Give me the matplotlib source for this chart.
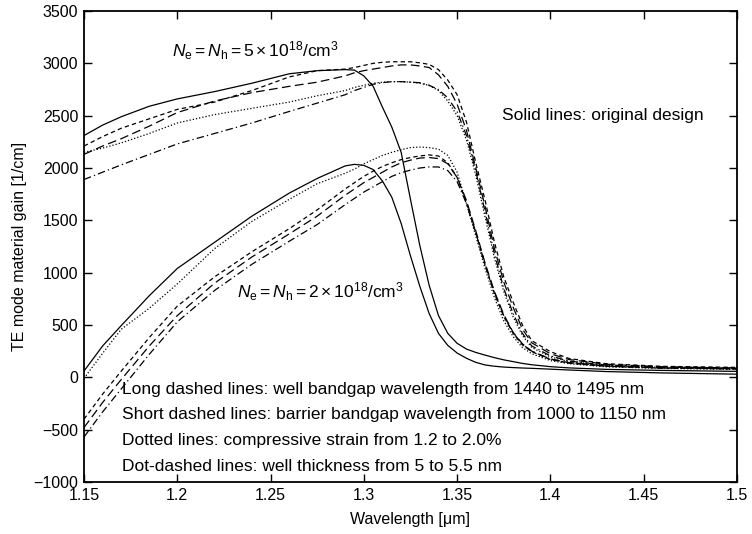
import matplotlib
matplotlib.use("Agg")
import matplotlib.pyplot as plt

plt.rcParams['font.family'] = ['Liberation Sans', 'DejaVu Sans']
plt.rcParams['mathtext.fontset'] = 'custom'
plt.rcParams['mathtext.rm'] = 'Liberation Sans'
plt.rcParams['mathtext.it'] = 'Liberation Sans:italic'

# wavelength grid (um) shared by all curves
wl = [1.15, 1.16, 1.17, 1.185, 1.20, 1.22, 1.24, 1.26, 1.275, 1.29, 1.295,
      1.30, 1.305, 1.31, 1.315, 1.32, 1.325, 1.33, 1.335, 1.34, 1.345, 1.35,
      1.355, 1.36, 1.365, 1.37, 1.375, 1.38, 1.385, 1.39, 1.40, 1.41, 1.43,
      1.46, 1.50]

# Ne = Nh = 5e18 /cm3
hi_solid = [2310, 2410, 2490, 2590, 2660, 2730, 2810, 2900, 2930, 2940, 2935,
            2880, 2780, 2580, 2390, 2150, 1700, 1260, 880, 590, 420, 325,
            270, 238, 212, 188, 167, 150, 133, 120, 102, 90, 76, 66, 57]
hi_long = [2130, 2210, 2280, 2400, 2530, 2640, 2720, 2780, 2820, 2880, 2910,
           2930, 2945, 2960, 2975, 2985, 2985, 2975, 2960, 2890, 2780, 2610,
           2360, 2000, 1630, 1230, 910, 670, 460, 330, 225, 170, 125, 100, 90]
hi_short = [2210, 2300, 2380, 2470, 2560, 2630, 2740, 2870, 2930, 2945, 2960,
            2980, 3000, 3010, 3015, 3015, 3015, 3005, 2990, 2940, 2840, 2700,
            2440, 2050, 1690, 1290, 960, 720, 500, 350, 245, 180, 130, 105, 95]
hi_dot = [2150, 2190, 2240, 2330, 2430, 2510, 2570, 2630, 2690, 2740, 2770,
          2790, 2810, 2820, 2825, 2825, 2820, 2810, 2790, 2740, 2640, 2500,
          2270, 1930, 1530, 1140, 820, 580, 400, 285, 195, 150, 115, 95, 85]
hi_dashdot = [1890, 1960, 2030, 2130, 2230, 2330, 2430, 2540, 2620, 2700, 2740,
              2770, 2800, 2815, 2825, 2825, 2820, 2815, 2790, 2750, 2670, 2540,
              2310, 1970, 1580, 1180, 850, 610, 420, 300, 205, 155, 118, 98, 88]

# Ne = Nh = 2e18 /cm3
lo_solid = [60, 300, 495, 780, 1040, 1290, 1540, 1760, 1900, 2020, 2035,
            2025, 1985, 1875, 1720, 1470, 1160, 870, 610, 420, 305, 232,
            182, 143, 118, 106, 98, 93, 89, 86, 78, 70, 55, 42, 30]
lo_long = [-480, -240, -20, 300, 590, 900, 1150, 1370, 1540, 1740, 1800,
           1860, 1910, 1960, 2010, 2050, 2075, 2095, 2100, 2090, 2040, 1910,
           1690, 1400, 1090, 820, 600, 430, 320, 250, 175, 140, 108, 90, 82]
lo_short = [-400, -160, 60, 380, 680, 960, 1200, 1420, 1600, 1800, 1860,
            1920, 1970, 2015, 2050, 2080, 2100, 2115, 2125, 2115, 2050, 1910,
            1670, 1380, 1070, 800, 580, 420, 310, 245, 170, 135, 105, 88, 80]
lo_dot = [-10, 230, 460, 660, 892, 1230, 1490, 1700, 1850, 1950, 1990,
          2040, 2080, 2120, 2150, 2175, 2195, 2200, 2195, 2180, 2120, 1960,
          1660, 1350, 1040, 760, 540, 390, 285, 225, 160, 130, 100, 85, 75]
lo_dashdot = [-570, -330, -110, 220, 530, 830, 1080, 1300, 1460, 1650, 1710,
              1770, 1820, 1870, 1920, 1955, 1980, 2000, 2010, 2010, 1975, 1870,
              1660, 1380, 1080, 810, 590, 425, 315, 248, 175, 140, 108, 90, 82]

notes = ["Long dashed lines: well bandgap wavelength from 1440 to 1495 nm",
         "Short dashed lines: barrier bandgap wavelength from 1000 to 1150 nm",
         "Dotted lines: compressive strain from 1.2 to 2.0%",
         "Dot-dashed lines: well thickness from 5 to 5.5 nm"]
note_y = [-163, -402, -642, -891]

fig = plt.figure(figsize=(7.52, 5.34), dpi=100)
ax = fig.add_axes([0.1117, 0.0974, 0.8683, 0.882])

styles = {
    'solid': '-',
    'long': (0, (7, 3.5)),
    'short': (0, (3.5, 2.5)),
    'dot': (0, (1, 1.6)),
    'dashdot': (0, (6, 2.5, 1, 2.5)),
}
lw = 0.9
for kind, hi, lo in [('solid', hi_solid, lo_solid), ('long', hi_long, lo_long),
                     ('short', hi_short, lo_short), ('dot', hi_dot, lo_dot),
                     ('dashdot', hi_dashdot, lo_dashdot)]:
    ax.plot(wl, hi, color='black', lw=lw, linestyle=styles[kind])
    ax.plot(wl, lo, color='black', lw=lw, linestyle=styles[kind])

ax.set_xlim(1.15, 1.5)
ax.set_ylim(-1000, 3500)
ax.set_xticks([1.15, 1.2, 1.25, 1.3, 1.35, 1.4, 1.45, 1.5])
ax.set_xticklabels(['1.15', '1.2', '1.25', '1.3', '1.35', '1.4', '1.45', '1.5'])
ax.set_yticks(range(-1000, 3501, 500))
ax.tick_params(direction='in', top=True, right=True, length=6, width=1,
               labelsize=11.5, pad=4)
for s in ax.spines.values():
    s.set_linewidth(1.3)

ax.set_xlabel("Wavelength [\u03bcm]", fontsize=11.5, labelpad=7)
ax.set_ylabel("TE mode material gain [1/cm]", fontsize=11.5, labelpad=5)

ax.text(1.197, 3066, r"$N_\mathrm{e}=N_\mathrm{h}=5\times10^{18}/\mathrm{cm}^3$",
        fontsize=12.5, va='baseline')
ax.text(1.232, 757, r"$N_\mathrm{e}=N_\mathrm{h}=2\times10^{18}/\mathrm{cm}^3$",
        fontsize=12.5, va='baseline')
ax.text(1.374, 2462, "Solid lines: original design", fontsize=12.5, va='baseline')

for t, y in zip(notes, note_y):
    ax.text(1.1704, y, t, fontsize=12.5, va='baseline')

fig.savefig("out.png", dpi=100)
